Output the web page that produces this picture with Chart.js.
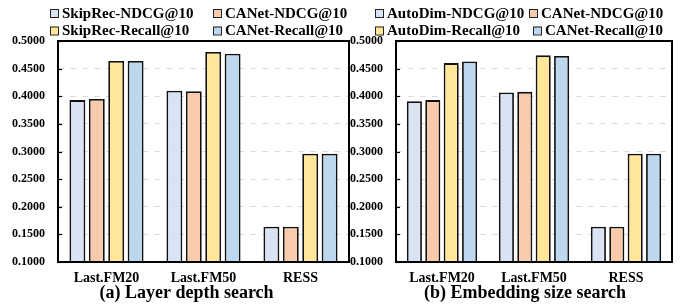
<!DOCTYPE html>
<html>
<head>
<meta charset="utf-8">
<script src="https://cdn.jsdelivr.net/npm/chart.js@4.4.1/dist/chart.umd.min.js"></script>
<style>
  html, body { margin: 0; padding: 0; background: #fff; overflow: hidden; }
  .panel { position: absolute; top: 0; height: 306px; }
</style>
</head>
<body>
<div class="panel" style="left:0;width:352px"><canvas id="chartA" width="352" height="306"></canvas></div>
<div class="panel" style="left:340px;width:345px"><canvas id="chartB" width="345" height="306"></canvas></div>
<script>
// categories and tick settings
const categories = ['Last.FM20', 'Last.FM50', 'RESS'];
const yMin = 0.1, yMax = 0.5, yStep = 0.05;

// (a) Layer depth search
const skipRecNdcg = [0.393, 0.410, 0.164];
const canetNdcgA = [0.395, 0.409, 0.164];
const skipRecRecall = [0.464, 0.480, 0.296];
const canetRecallA = [0.464, 0.477, 0.296];

// (b) Embedding size search
const autoDimNdcg = [0.391, 0.407, 0.164];
const canetNdcgB = [0.393, 0.408, 0.164];
const autoDimRecall = [0.460, 0.474, 0.296];
const canetRecallB = [0.463, 0.473, 0.296];

const colors = ['#dae3f3', '#f8cbad', '#ffe699', '#bdd7ee'];
const SERIF = "'Liberation Serif', 'Times New Roman', serif";

// legend drawn as two rows, frame + caption drawn by plugin
const paperPlugin = {
    id: 'paper',
    afterDatasetsDraw(chart, args, opts) {
        const { ctx, chartArea: a, scales } = chart;
        ctx.save();
        // inward y ticks
        ctx.strokeStyle = '#000';
        ctx.lineWidth = 1.2;
        scales.y.ticks.forEach(t => {
            const y = Math.round(scales.y.getPixelForValue(t.value)) + 0.5;
            ctx.beginPath();
            ctx.moveTo(a.left, y);
            ctx.lineTo(a.left + 4, y);
            ctx.stroke();
        });
        ctx.lineWidth = 2;
        ctx.strokeRect(a.left, a.top, a.right - a.left, a.bottom - a.top);
        ctx.restore();
    },
    afterDraw(chart, args, opts) {
        const { ctx } = chart;
        ctx.save();
        ctx.font = 'bold 15px ' + SERIF;
        ctx.textBaseline = 'middle';
        ctx.textAlign = 'left';
        chart.data.datasets.forEach((ds, i) => {
            const p = opts.items[i];
            ctx.fillStyle = ds.backgroundColor;
            ctx.fillRect(p.x, p.y - 4, 8, 8);
            ctx.strokeStyle = '#222';
            ctx.lineWidth = 1;
            ctx.strokeRect(p.x + 0.5, p.y - 3.5, 8, 8);
            ctx.fillStyle = '#000';
            ctx.fillText(ds.label, p.x + 12, p.y + 1);
        });
        ctx.font = 'bold 18px ' + SERIF;
        ctx.textAlign = 'center';
        ctx.textBaseline = 'alphabetic';
        ctx.fillText(opts.caption, opts.captionX, 298);
        ctx.restore();
    }
};

function makeChart(id, names, series, yWidth, padRight, legendItems, caption, captionX) {
    const ctx = document.getElementById(id).getContext('2d');
    return new Chart(ctx, {
        type: 'bar',
        data: {
            labels: categories,
            datasets: series.map((data, i) => ({
                label: names[i],
                data: data,
                backgroundColor: colors[i],
                borderColor: '#111',
                borderWidth: 1.8,
                barPercentage: 0.82,
                categoryPercentage: 0.8
            }))
        },
        options: {
            responsive: false,
            animation: false,
            layout: { padding: { top: 41, right: padRight, bottom: 20, left: 0 } },
            plugins: {
                legend: { display: false },
                tooltip: { enabled: false },
                paper: { items: legendItems, caption: caption, captionX: captionX }
            },
            scales: {
                x: {
                    grid: { display: false, drawTicks: false },
                    border: { display: false },
                    ticks: { color: '#000', padding: 8, font: { family: SERIF, size: 14, weight: 'bold' } },
                    afterFit: s => { s.height = 24; }
                },
                y: {
                    min: yMin,
                    max: yMax,
                    grid: { color: '#dcdcdc', drawTicks: false, lineWidth: 1 },
                    border: { display: false, dash: [6, 6] },
                    ticks: {
                        stepSize: yStep,
                        padding: 13,
                        color: '#000',
                        font: { family: SERIF, size: 12, weight: 'bold' },
                        callback: v => v.toFixed(4)
                    },
                    afterFit: s => { s.width = yWidth; }
                }
            }
        },
        plugins: [paperPlugin]
    });
}

makeChart('chartA',
    ['SkipRec-NDCG@10', 'CANet-NDCG@10', 'SkipRec-Recall@10', 'CANet-Recall@10'],
    [skipRecNdcg, canetNdcgA, skipRecRecall, canetRecallA],
    58, 3,
    [{ x: 50, y: 13 }, { x: 213, y: 13 }, { x: 50, y: 30.5 }, { x: 213, y: 30.5 }],
    '(a) Layer depth search', 186.5);

makeChart('chartB',
    ['AutoDim-NDCG@10', 'CANet-NDCG@10', 'AutoDim-Recall@10', 'CANet-Recall@10'],
    [autoDimNdcg, canetNdcgB, autoDimRecall, canetRecallB],
    56, 13,
    [{ x: 35, y: 13 }, { x: 189, y: 13 }, { x: 35, y: 30.5 }, { x: 193, y: 30.5 }],
    '(b) Embedding size search', 185);
</script>
</body>
</html>
